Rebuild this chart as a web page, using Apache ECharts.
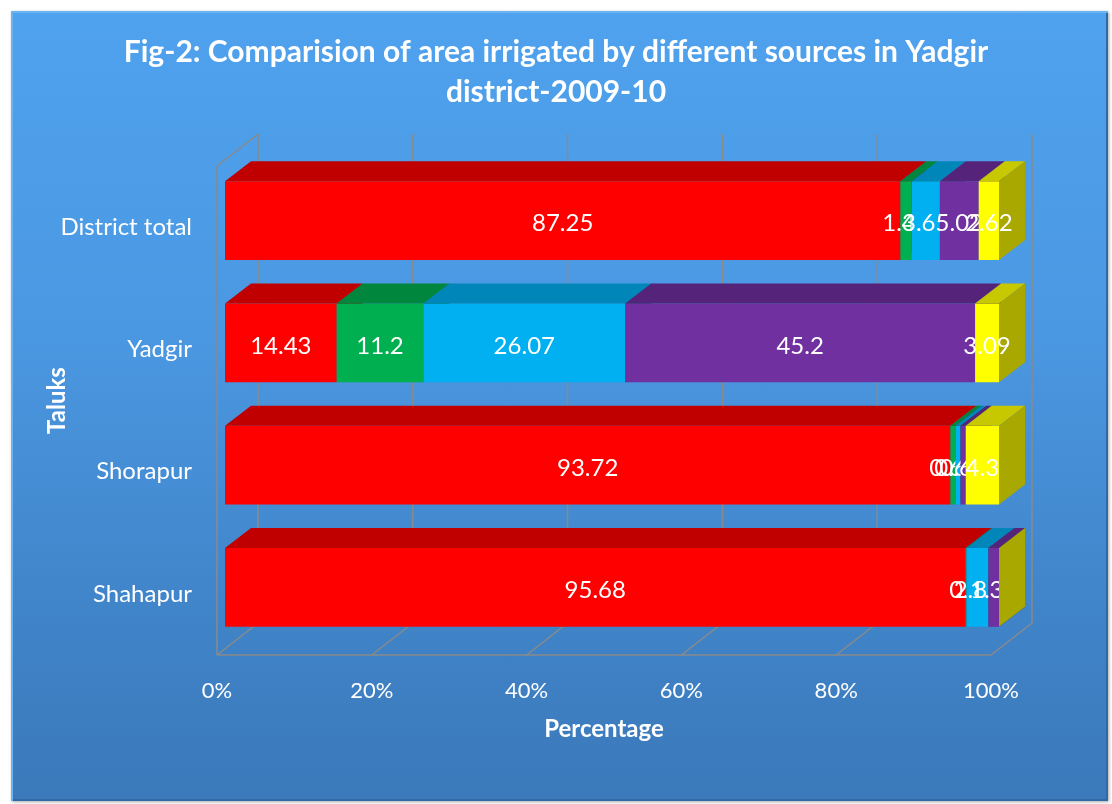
<!DOCTYPE html>
<html>
<head>
<meta charset="utf-8">
<script src="https://cdn.jsdelivr.net/npm/echarts@6/dist/echarts.min.js"></script>
<style>
html,body{margin:0;padding:0;background:#fff;width:1112px;height:804px;overflow:hidden;}
#bg{position:absolute;left:11px;top:11px;width:1097px;height:790px;
background:linear-gradient(to bottom,#4fa2ee 0%,#4b98e2 40%,#3f82c6 80%,#3b79ba 100%);
box-shadow:inset 2px 2px 0 #6bb4f4, inset -2px -2px 0 #2f6aa6, 1px 1px 3px rgba(0,0,0,0.35);}
#chart{position:absolute;left:0;top:0;width:1112px;height:804px;}
</style>
</head>
<body>
<div id="bg"></div>
<div id="chart"></div>
<script>
// ---- data ----
var categories = ['District total', 'Yadgir', 'Shorapur', 'Shahapur'];
var seriesNames = ['Canals', 'Tanks', 'Wells', 'Tube wells', 'Other sources'];
var canals     = [87.25, 14.43, 93.72, 95.68];
var tanks      = [1.45, 11.2, 0.64, 0.1];
var wells      = [3.65, 26.07, 0.67, 2.85];
var tubeWells  = [5.02, 45.2, 0.67, 1.37];
var others     = [2.62, 3.09, 4.3, 0];
var xTicks     = [0, 20, 40, 60, 80, 100];

var allSeries = [canals, tanks, wells, tubeWells, others];
var colors = [
  {front:'#ff0000', top:'#c00000', side:'#a80000'},
  {front:'#00b050', top:'#00863d', side:'#006f33'},
  {front:'#00b0f0', top:'#0086b8', side:'#00709a'},
  {front:'#7030a0', top:'#55247a', side:'#471e66'},
  {front:'#ffff00', top:'#c8c800', side:'#a8a800'}
];

// cumulative 100% stacking
var totals = categories.map(function(c, i){
  var s = 0; allSeries.forEach(function(a){ s += a[i]; }); return s;
});
var cum = categories.map(function(){ return 0; });
var seriesData = allSeries.map(function(arr){
  return arr.map(function(v, i){
    var start = cum[i] / totals[i] * 100;
    cum[i] += v;
    var end = cum[i] / totals[i] * 100;
    return [i, start, end, v];
  });
});

var FDX = 8, FDY = -6.5;      // bar front offset within the depth
var DX = 26, DY = -20;        // bar depth
var WDX = 41, WDY = -32;      // wall depth
var FONT = 'Lato, "Open Sans", sans-serif';

function bar3d(col){
  return function(params, api){
    var cat = api.value(0);
    var p0 = api.coord([api.value(1), cat]);
    var p1 = api.coord([api.value(2), cat]);
    var band = api.size([0, 1])[1];
    var h = band * 0.645;
    var x0 = p0[0] + FDX, x1 = p1[0] + FDX;
    var yc = p0[1] + FDY;
    var top = yc - h / 2, bot = yc + h / 2;
    var children = [
      {type:'rect', shape:{x:x0, y:top, width:x1 - x0, height:h}, style:{fill:col.front}},
      {type:'polygon', shape:{points:[[x0, top],[x0 + DX, top + DY],[x1 + DX, top + DY],[x1, top]]}, style:{fill:col.top}},
      {type:'polygon', shape:{points:[[x1, top],[x1 + DX, top + DY],[x1 + DX, bot + DY],[x1, bot]]}, style:{fill:col.side}}
    ];
    var v = api.value(3);
    if (v > 0) {
      children.push({type:'text', z2:10, style:{text:String(v), x:(x0 + x1) / 2, y:yc + 3,
        fill:'#ffffff', font:'24px ' + FONT, align:'center', verticalAlign:'middle'}});
    }
    return {type:'group', children:children};
  };
}

var series = [];
// wall / floor frame
series.push({
  type:'custom', name:'frame', silent:true, z:1,
  data: xTicks.map(function(t){ return [t]; }),
  encode:{x:0},
  renderItem:function(params, api){
    var cs = params.coordSys;
    var yb = cs.y + cs.height, yt = cs.y;
    var x = api.coord([api.value(0), 0])[0];
    var ls = {stroke:'#8a8a8a', lineWidth:1.5, fill:null};
    var ch = [
      {type:'line', shape:{x1:x, y1:yb, x2:x + WDX, y2:yb + WDY}, style:ls},
      {type:'line', shape:{x1:x + WDX, y1:yb + WDY, x2:x + WDX, y2:yt + WDY}, style:ls}
    ];
    if (api.value(0) === xTicks[0]) {
      var xr = api.coord([xTicks[xTicks.length - 1], 0])[0];
      ch.push({type:'line', shape:{x1:x, y1:yb, x2:xr, y2:yb}, style:ls});
      ch.push({type:'line', shape:{x1:x, y1:yb, x2:x, y2:yt}, style:ls});
      ch.push({type:'line', shape:{x1:x, y1:yt, x2:x + WDX, y2:yt + WDY}, style:ls});
    }
    return {type:'group', children:ch};
  }
});
seriesData.forEach(function(d, k){
  series.push({
    type:'custom', name:seriesNames[k], z:2 + k,
    data:d, encode:{x:[1, 2], y:0},
    renderItem:bar3d(colors[k])
  });
});

var chart = echarts.init(document.getElementById('chart'), null, {renderer:'canvas'});
chart.setOption({
  backgroundColor:'transparent',
  animation:false,
  title:{
    text:'Fig-2: Comparision of area irrigated by different sources in Yadgir\ndistrict-2009-10',
    left:'center', top:27,
    textStyle:{color:'#ffffff', fontFamily:FONT, fontWeight:'bold', fontSize:30, lineHeight:40}
  },
  grid:{left:217, right:121, top:166, bottom:149, containLabel:false},
  xAxis:{
    type:'value', min:0, max:100, interval:20,
    axisLine:{show:false}, axisTick:{show:false}, splitLine:{show:false},
    axisLabel:{color:'#ffffff', fontFamily:FONT, fontSize:22, margin:25, formatter:'{value}%'},
    name:'Percentage', nameLocation:'middle', nameGap:62, nameMoveOverlap:false,
    nameTextStyle:{color:'#ffffff', fontFamily:FONT, fontSize:24, fontWeight:'bold'}
  },
  yAxis:{
    type:'category', data:categories, inverse:true,
    axisLine:{show:false}, axisTick:{show:false}, splitLine:{show:false},
    axisLabel:{color:'#ffffff', fontFamily:FONT, fontSize:24, margin:25},
    name:'Taluks', nameLocation:'middle', nameGap:148, nameRotate:90, nameMoveOverlap:false,
    nameTextStyle:{color:'#ffffff', fontFamily:FONT, fontSize:24, fontWeight:'bold', padding:[0,0,0,20]}
  },
  series:series
});
</script>
</body>
</html>
